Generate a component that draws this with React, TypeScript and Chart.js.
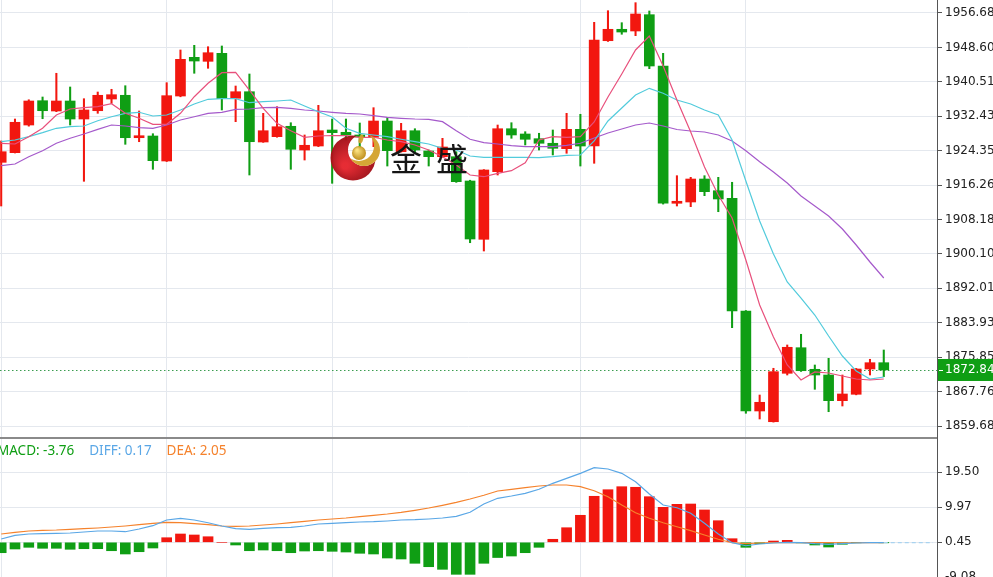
import React, { useEffect, useRef } from "react";
import { Chart, registerables } from "chart.js";

Chart.register(...registerables);

// ---- Candles (index 0 is the partly hidden candle at the left edge) ----
const candleOpen = [
  1921.61, 1923.87, 1930.37, 1936.08, 1933.66, 1936.01, 1931.78, 1933.73, 1936.48, 1937.35,
  1927.39, 1927.79, 1921.92, 1937.18, 1946.27, 1945.33, 1947.21, 1936.65, 1938.19, 1926.38,
  1927.63, 1930.07, 1924.5, 1925.44, 1929.2, 1928.66, 1928.03, 1927.49, 1931.31, 1924.1,
  1929.03, 1924.27, 1922.93, 1922.93, 1917.22, 1903.53, 1919.41, 1929.5, 1928.26, 1927.16,
  1926.08, 1924.81, 1929.36, 1925.44, 1950.17, 1952.85, 1952.45, 1956.28, 1944.23, 1911.99,
  1912.29, 1917.69, 1914.94, 1913.16, 1886.69, 1863.21, 1860.69, 1872.06, 1878.07, 1873.0,
  1871.66, 1865.63, 1867.13, 1873.07, 1874.55,
];
const candleHigh = [
  1926.62, 1931.78, 1936.3, 1936.95, 1942.52, 1939.3, 1936.55, 1938.12, 1938.76, 1939.6,
  1933.66, 1928.33, 1940.31, 1947.99, 1949.09, 1948.76, 1948.93, 1939.53, 1942.35, 1933.12,
  1934.67, 1930.91, 1928.03, 1935.0, 1931.78, 1931.78, 1930.84, 1934.44, 1932.18, 1930.77,
  1929.5, 1924.5, 1927.25, 1924.1, 1917.4, 1919.9, 1930.37, 1930.91, 1928.8, 1928.43,
  1929.2, 1933.12, 1932.89, 1954.49, 1957.22, 1954.4, 1959.1, 1957.15, 1947.21, 1918.47,
  1918.09, 1918.47, 1918.09, 1916.92, 1886.8, 1866.96, 1873.24, 1878.71, 1881.22, 1874.01,
  1875.58, 1871.66, 1873.2, 1875.35, 1877.53,
];
const candleLow = [
  1911.35, 1923.8, 1930.1, 1931.85, 1933.5, 1930.37, 1917.15, 1933.12, 1935.47, 1925.84,
  1926.45, 1919.97, 1921.8, 1937.0, 1942.52, 1943.69, 1933.9, 1931.15, 1918.63, 1926.3,
  1927.5, 1919.97, 1922.15, 1925.3, 1916.68, 1926.85, 1924.5, 1925.28, 1920.74, 1924.0,
  1923.8, 1920.74, 1922.8, 1916.9, 1902.73, 1900.78, 1918.63, 1927.25, 1925.68, 1924.5,
  1923.33, 1923.73, 1920.74, 1921.38, 1950.0, 1951.68, 1951.35, 1943.6, 1911.8, 1911.35,
  1911.19, 1913.77, 1910.01, 1882.77, 1862.67, 1861.33, 1860.6, 1871.66, 1872.5, 1868.3,
  1863.04, 1864.38, 1867.0, 1871.66, 1871.26,
];
const candleClose = [
  1924.1, 1931.01, 1936.01, 1933.73, 1936.01, 1931.78, 1933.9, 1937.35, 1937.49, 1927.39,
  1927.86, 1921.99, 1937.26, 1945.8, 1945.4, 1947.35, 1936.55, 1938.19, 1926.45, 1929.03,
  1929.97, 1924.67, 1925.61, 1929.03, 1928.57, 1928.03, 1927.56, 1931.31, 1924.34, 1929.03,
  1924.5, 1922.93, 1925.21, 1917.06, 1903.6, 1919.81, 1929.5, 1928.03, 1927.02, 1926.08,
  1924.9, 1929.36, 1925.44, 1950.34, 1952.85, 1952.21, 1956.44, 1944.23, 1911.99, 1912.46,
  1917.69, 1914.71, 1913.0, 1886.69, 1863.21, 1865.25, 1872.44, 1878.17, 1872.67, 1871.66,
  1865.63, 1867.2, 1873.07, 1874.55, 1872.84,
];

// ---- Moving averages ----
const ma5 = [
  1926.08, 1925.91, 1927.63, 1929.6, 1932.72, 1934.13, 1934.44, 1934.67, 1935.38, 1933.12,
  1931.95, 1930.54, 1930.54, 1933.12, 1937.02, 1940.17, 1942.66, 1942.75, 1938.59, 1934.3,
  1930.77, 1929.03, 1927.49, 1927.79, 1927.91, 1927.86, 1927.49, 1927.49, 1926.85, 1926.45,
  1925.68, 1924.5, 1922.93, 1920.98, 1918.63, 1918.23, 1919.03, 1919.64, 1921.52, 1926.85,
  1927.63, 1927.49, 1927.63, 1931.08, 1936.95, 1942.35, 1947.99, 1951.28, 1944.23, 1936.24,
  1928.73, 1920.51, 1913.93, 1908.53, 1898.67, 1888.1, 1880.59, 1874.01, 1870.49, 1872.37,
  1872.13, 1871.43, 1870.72, 1870.49, 1870.72,
];
const ma10 = [
  1926.45, 1926.85, 1927.63, 1928.57, 1929.6, 1929.97, 1930.14, 1931.38, 1932.32, 1933.12,
  1933.36, 1932.49, 1932.72, 1933.9, 1935.31, 1936.41, 1936.55, 1936.55, 1935.61, 1935.85,
  1936.01, 1936.24, 1934.84, 1933.5, 1932.25, 1929.6, 1928.42, 1928.03, 1927.63, 1927.02,
  1926.45, 1925.91, 1924.9, 1924.5, 1923.09, 1922.79, 1922.79, 1922.79, 1922.79, 1922.69,
  1922.93, 1923.26, 1923.33, 1926.62, 1931.31, 1934.37, 1937.42, 1938.99, 1937.82, 1936.24,
  1935.31, 1933.9, 1932.72, 1926.85, 1917.22, 1907.83, 1900.08, 1893.5, 1889.74, 1885.75,
  1880.82, 1876.12, 1872.6, 1870.72, 1871.19,
];
const ma20 = [
  1920.82, 1921.21, 1922.93, 1924.34, 1926.08, 1927.25, 1928.26, 1929.36, 1930.37, 1930.14,
  1929.74, 1929.6, 1930.37, 1931.55, 1932.32, 1933.12, 1933.36, 1934.06, 1934.13, 1934.44,
  1934.53, 1934.3, 1933.9, 1933.66, 1933.36, 1933.12, 1932.96, 1932.56, 1932.18, 1931.95,
  1931.78, 1931.71, 1931.15, 1929.03, 1927.02, 1926.22, 1925.91, 1925.51, 1925.28, 1925.28,
  1925.28, 1925.61, 1926.08, 1927.32, 1928.49, 1929.43, 1930.37, 1930.84, 1930.14, 1929.32,
  1928.96, 1928.73, 1928.03, 1926.62, 1924.34, 1921.76, 1919.34, 1916.75, 1913.7, 1911.35,
  1909.0, 1905.95, 1902.19, 1898.2, 1894.44,
];

// ---- MACD panel (values in the panel's axis units) ----
const macdHist = [
  -2.38, -1.37, -0.91, -1.18, -1.18, -1.45, -1.29, -1.29, -1.84, -2.73,
  -2.11, -1.1, 1.7, 2.71, 2.44, 1.97, 0.45, -0.28, -1.84, -1.65,
  -1.84, -2.38, -1.92, -1.84, -2.0, -2.19, -2.54, -2.73, -3.82, -4.09,
  -5.26, -6.19, -6.9, -8.26, -8.26, -5.26, -3.69, -3.28, -2.38, -0.91,
  1.27, 4.42, 7.8, 12.97, 14.76, 15.58, 15.42, 12.86, 9.97, 10.79,
  10.87, 9.24, 6.33, 1.43, -0.91, 0.07, 0.8, 0.99, 0.3, -0.28,
  -0.83, -0.09, 0.4, 0.45, 0.42,
];
const diffLine = [
  1.35, 2.35, 2.71, 2.79, 2.9, 2.98, 3.25, 3.52, 3.52, 3.33,
  4.07, 4.97, 6.52, 6.98, 6.52, 5.78, 4.89, 4.15, 3.99, 4.26,
  4.42, 4.53, 4.89, 5.43, 5.62, 5.78, 5.97, 6.06, 6.25, 6.52,
  6.6, 6.79, 7.06, 7.52, 8.61, 10.87, 12.42, 13.05, 13.78, 14.87,
  16.5, 17.86, 19.22, 20.75, 20.39, 19.22, 16.94, 13.59, 10.6, 9.86,
  8.34, 5.62, 2.71, 0.34, -0.48, -0.01, 0.26, 0.45, 0.34, 0.07,
  -0.09, 0.07, 0.26, 0.34, 0.34,
];
const deaLine = [
  2.71, 3.17, 3.52, 3.72, 3.8, 3.99, 4.15, 4.34, 4.61, 4.89,
  5.24, 5.62, 5.89, 5.78, 5.51, 5.24, 4.89, 4.8, 4.89, 5.16,
  5.43, 5.78, 6.16, 6.52, 6.79, 7.06, 7.42, 7.8, 8.15, 8.61,
  9.16, 9.78, 10.52, 11.33, 12.23, 13.24, 14.41, 14.87, 15.31, 15.77,
  16.04, 16.04, 15.58, 14.49, 12.86, 10.6, 8.5, 6.98, 5.78, 4.69,
  3.61, 2.44, 1.27, 0.34, 0.07, 0.26, 0.34, 0.35, 0.38, 0.38,
  0.36, 0.33, 0.33, 0.35, 0.37,
];
const macdBase = 0.45;

// ---- Axis ticks, labels ----
const priceTicks = [
  1859.68, 1867.76, 1875.85, 1883.93, 1892.01, 1900.1, 1908.18, 1916.26, 1924.35, 1932.43,
  1940.51, 1948.6, 1956.68,
];
const macdTicks = [-9.08, 0.45, 9.97, 19.5];
const dayLineIndices = [0, 12, 24, 42, 54];
const lastPrice = 1872.84;
const indicatorNames = ["MACD", "DIFF", "DEA"];
const indicatorValues = [-3.76, 0.17, 2.05];
const logoChars = ["金", "盛"];

// ---- Styles ----
const RED = "#f2170f";
const GREEN = "#0f9e14";
const MA5_COLOR = "#e8507c";
const MA10_COLOR = "#52cbdc";
const MA20_COLOR = "#a55acb";
const DIFF_COLOR = "#5aa7e6";
const DEA_COLOR = "#f5822c";
const GRID = "#e4e8ee";
const AXIS_FONT = { family: "DejaVu Sans", size: 12 };
const X_MIN = -0.087;
const X_MAX = 67.86;

function drawLogo(ctx: CanvasRenderingContext2D) {
  ctx.save();
  ctx.globalAlpha = 0.96;
  // red crescent (outer disc minus an inner disc shifted to the upper right)
  ctx.save();
  ctx.beginPath();
  ctx.arc(353, 158, 22.5, 0, Math.PI * 2);
  ctx.clip();
  const g = ctx.createRadialGradient(345, 166, 3, 353, 158, 25);
  g.addColorStop(0, "#e5242c");
  g.addColorStop(1, "#9a0c14");
  ctx.beginPath();
  ctx.rect(320, 125, 70, 70);
  ctx.moveTo(364 + 16, 150);
  ctx.arc(364, 150, 16, 0, Math.PI * 2, true);
  ctx.fillStyle = g;
  ctx.fill("evenodd");
  ctx.restore();
  // thin gold crescent inside the opening (lower right)
  ctx.save();
  ctx.beginPath();
  ctx.arc(364, 150, 16, 0, Math.PI * 2);
  ctx.clip();
  ctx.beginPath();
  ctx.rect(340, 125, 50, 50);
  ctx.moveTo(359 + 15, 146);
  ctx.arc(359, 146, 15, 0, Math.PI * 2, true);
  ctx.fillStyle = "#d3a22e";
  ctx.fill("evenodd");
  ctx.restore();
  // gold ball
  const gb = ctx.createRadialGradient(357, 150, 1, 359, 153, 7.5);
  gb.addColorStop(0, "#fbe07a");
  gb.addColorStop(1, "#b9860f");
  ctx.beginPath();
  ctx.arc(359, 153, 7, 0, Math.PI * 2);
  ctx.fillStyle = gb;
  ctx.fill();
  // small leaf above the ball
  ctx.beginPath();
  ctx.ellipse(361, 139, 2.2, 4.5, 0.3, 0, Math.PI * 2);
  ctx.fillStyle = "#d3a22e";
  ctx.fill();
  // text
  ctx.globalAlpha = 1;
  ctx.fillStyle = "#151515";
  ctx.font = '32px "Noto Sans CJK SC"';
  ctx.textBaseline = "alphabetic";
  ctx.fillText(logoChars[0], 390, 171);
  ctx.fillText(logoChars[1], 436, 171);
  ctx.restore();
}

const topDecor = {
  id: "topDecor",
  beforeDatasetsDraw(chart: any) {
    const { ctx, chartArea, scales } = chart;
    const y = Math.round(scales.y.getPixelForValue(lastPrice)) + 0.5;
    ctx.save();
    ctx.strokeStyle = "#3a9d50";
    ctx.lineWidth = 1;
    ctx.setLineDash([1.5, 2.5]);
    ctx.beginPath();
    ctx.moveTo(chartArea.left, y);
    ctx.lineTo(chartArea.right, y);
    ctx.stroke();
    ctx.restore();
  },
  afterDatasetsDraw(chart: any) {
    drawLogo(chart.ctx);
  },
  afterDraw(chart: any) {
    const { ctx, chartArea, scales, width } = chart;
    const y = scales.y.getPixelForValue(lastPrice);
    ctx.save();
    ctx.fillStyle = GREEN;
    ctx.fillRect(chartArea.right + 1, y - 11, width - chartArea.right, 22);
    ctx.strokeStyle = "#ffffff";
    ctx.lineWidth = 1;
    ctx.beginPath();
    ctx.moveTo(chartArea.right + 2, Math.round(y) + 0.5);
    ctx.lineTo(chartArea.right + 6, Math.round(y) + 0.5);
    ctx.stroke();
    ctx.fillStyle = "#ffffff";
    ctx.font = '12px "DejaVu Sans"';
    ctx.textBaseline = "middle";
    ctx.textAlign = "left";
    ctx.fillText(lastPrice.toFixed(2), chartArea.right + 8, y);
    ctx.restore();
  },
};

const bottomDecor = {
  id: "bottomDecor",
  afterDatasetsDraw(chart: any) {
    const { ctx, chartArea, scales } = chart;
    const lastIdx = deaLine.length - 1;
    const x0 = scales.x.getPixelForValue(lastIdx);
    const y = scales.y.getPixelForValue(deaLine[lastIdx]);
    ctx.save();
    ctx.strokeStyle = "#a9d3f0";
    ctx.lineWidth = 1.2;
    ctx.setLineDash([4, 3]);
    ctx.beginPath();
    ctx.moveTo(x0, y);
    ctx.lineTo(chartArea.right - 4, y);
    ctx.stroke();
    ctx.restore();
  },
  afterDraw(chart: any) {
    const { ctx, chartArea } = chart;
    ctx.save();
    ctx.fillStyle = "#8a8a8a";
    ctx.fillRect(0, 0, chartArea.right, 2);
    ctx.font = '13.5px "Noto Sans"';
    ctx.textBaseline = "middle";
    ctx.textAlign = "left";
    const colors = [GREEN, DIFF_COLOR, DEA_COLOR];
    let x = -3;
    indicatorNames.forEach((name, i) => {
      const txt = `${name}: ${indicatorValues[i].toFixed(2)}`;
      ctx.fillStyle = colors[i];
      ctx.fillText(txt, x, 14);
      x += ctx.measureText(txt).width + 15;
    });
    ctx.restore();
  },
};

function xScale() {
  return {
    type: "linear",
    min: X_MIN,
    max: X_MAX,
    offset: false,
    position: "bottom",
    afterBuildTicks: (s: any) => {
      s.ticks = dayLineIndices.map((v) => ({ value: v }));
    },
    afterFit: (s: any) => {
      s.height = 0;
      s.paddingLeft = 0;
      s.paddingRight = 0;
    },
    ticks: { display: false },
    grid: { color: GRID, drawTicks: false, offset: false },
    border: { display: false },
  };
}

function yScale(min: number, max: number, ticks: number[]) {
  return {
    position: "right",
    min,
    max,
    afterBuildTicks: (s: any) => {
      s.ticks = ticks.map((v) => ({ value: v }));
    },
    afterFit: (s: any) => {
      s.width = 56;
      s.paddingTop = 0;
      s.paddingBottom = 0;
    },
    ticks: {
      autoSkip: false,
      color: "#222222",
      font: AXIS_FONT,
      padding: 3,
      callback: (v: any) => Number(v).toFixed(2),
    },
    grid: { color: GRID, tickColor: "#555555", tickLength: 5 },
    border: { display: true, color: "#555555", width: 1 },
  };
}

export default function App() {
  const topRef = useRef<HTMLCanvasElement>(null);
  const botRef = useRef<HTMLCanvasElement>(null);

  useEffect(() => {
    document.body.style.margin = "0";
    document.body.style.overflow = "hidden";
    const idx = candleOpen.map((_, i) => i);
    const candleColors = idx.map((i) => (candleClose[i] >= candleOpen[i] ? RED : GREEN));
    const lineDs = (label: string, values: number[], color: string) => ({
      type: "line",
      label,
      data: values.map((v, i) => ({ x: i, y: v })),
      borderColor: color,
      borderWidth: 1.2,
      pointRadius: 0,
      tension: 0,
      fill: false,
      order: 0,
    });

    const top = new Chart(topRef.current as HTMLCanvasElement, {
      type: "bar",
      data: {
        datasets: [
          {
            type: "bar",
            label: "wick",
            data: idx.map((i) => ({ x: i, y: [candleLow[i], candleHigh[i]] })),
            backgroundColor: candleColors,
            barThickness: 1.4,
            grouped: false,
            order: 3,
          },
          {
            type: "bar",
            label: "body",
            data: idx.map((i) => ({ x: i, y: [candleOpen[i], candleClose[i]] })),
            backgroundColor: candleColors,
            barThickness: 10,
            minBarLength: 2,
            grouped: false,
            order: 2,
          },
          lineDs("MA5", ma5, MA5_COLOR),
          lineDs("MA10", ma10, MA10_COLOR),
          lineDs("MA20", ma20, MA20_COLOR),
        ] as any,
      },
      options: {
        animation: false,
        responsive: false,
        maintainAspectRatio: false,
        events: [],
        layout: { padding: 0 },
        plugins: { legend: { display: false }, tooltip: { enabled: false } },
        scales: {
          x: xScale() as any,
          y: yScale(1857.1, 1959.73, priceTicks) as any,
        },
      },
      plugins: [topDecor],
    });

    const bot = new Chart(botRef.current as HTMLCanvasElement, {
      type: "bar",
      data: {
        datasets: [
          {
            type: "bar",
            label: "MACD",
            data: macdHist.map((v, i) => ({ x: i, y: v })),
            backgroundColor: macdHist.map((v) => (v >= macdBase ? RED : GREEN)),
            barThickness: 10,
            base: macdBase,
            grouped: false,
            order: 2,
          },
          lineDs("DIFF", diffLine, DIFF_COLOR),
          lineDs("DEA", deaLine, DEA_COLOR),
        ] as any,
      },
      options: {
        animation: false,
        responsive: false,
        maintainAspectRatio: false,
        events: [],
        layout: { padding: 0 },
        plugins: { legend: { display: false }, tooltip: { enabled: false } },
        scales: {
          x: xScale() as any,
          y: yScale(-14.43, 29.1, macdTicks) as any,
        },
      },
      plugins: [bottomDecor],
    });

    return () => {
      top.destroy();
      bot.destroy();
    };
  }, []);

  return (
    <div style={{ position: "relative", width: 993, height: 577, overflow: "hidden", background: "#ffffff" }}>
      <canvas
        ref={topRef}
        width={993}
        height={437}
        style={{ position: "absolute", left: 0, top: 0, width: 993, height: 437 }}
      />
      <canvas
        ref={botRef}
        width={993}
        height={160}
        style={{ position: "absolute", left: 0, top: 437, width: 993, height: 160 }}
      />
    </div>
  );
}
